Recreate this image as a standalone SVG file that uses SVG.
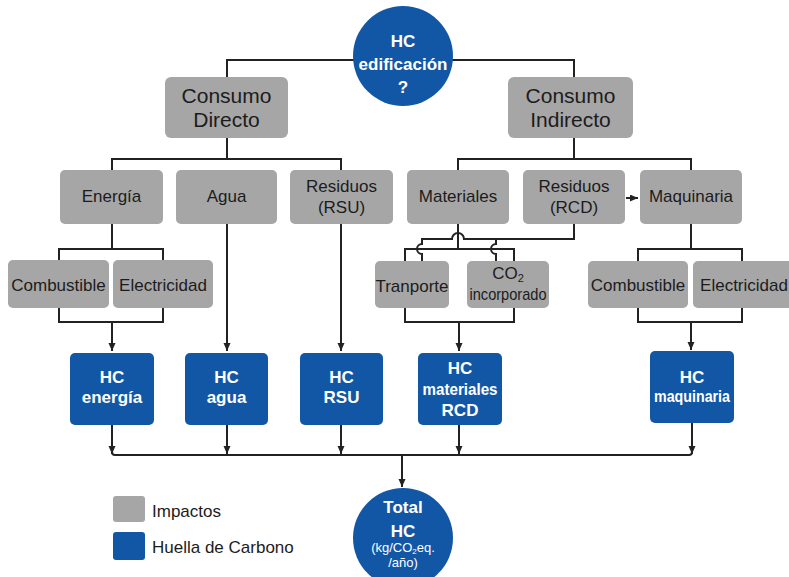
<svg xmlns="http://www.w3.org/2000/svg" width="789" height="577" viewBox="0 0 789 577">
  <style>
    .imp { fill: #a6a6a6; }
    .hc { fill: #1257a6; }
    .t { font-family: "Liberation Sans", Arial, sans-serif; font-size: 17px; fill: #1c1c1c; text-anchor: middle; }
    .big { font-size: 21px; }
    .w { font-family: "Liberation Sans", Arial, sans-serif; font-size: 17px; font-weight: bold; fill: #ffffff; text-anchor: middle; }
    .sm { font-size: 13px; font-weight: normal; }
    .lg { text-anchor: start; }
    .ln { fill: none; stroke: #222222; stroke-width: 2; }
  </style>
  <defs>
    <marker id="arr" markerUnits="userSpaceOnUse" markerWidth="9" markerHeight="8" refX="8" refY="3.5" orient="auto">
      <path d="M0,0 L8,3.5 L0,7 z" fill="#222222"/>
    </marker>
  </defs>
  <rect width="789" height="577" fill="#ffffff"/>

  <!-- connectors -->
  <g id="connectors" class="ln">
    <path d="M402,60 H227 V77"/>
    <path d="M402,60 H574 V77"/>
    <path d="M227,138 V159"/>
    <path d="M112,170 V159 H341 V170"/>
    <path d="M574,138 V159"/>
    <path d="M458,170 V159 H691 V170"/>
    <!-- Energía -->
    <path d="M112,224 V249"/>
    <path d="M59,260 V249 H163 V260"/>
    <path d="M59,308 V322 H163 V308"/>
    <path d="M112,322 V351" marker-end="url(#arr)"/>
    <path d="M227,224 V351" marker-end="url(#arr)"/>
    <path d="M341,224 V351" marker-end="url(#arr)"/>
    <!-- Residuos (RCD) to Maquinaria -->
    <path d="M626,198 H638" marker-end="url(#arr)"/>
    <!-- Residuos (RCD) to Tranporte / CO2, hopping over the Materiales lines -->
    <path d="M574,224 V239 H464 A6,6 0 0 0 452,239 H422 V244 A5,5 0 0 0 422,254 V261"/>
    <path d="M496,239 V244 A5,5 0 0 0 496,254 V261"/>
    <!-- Materiales to Tranporte / CO2 -->
    <path d="M458,224 V249"/>
    <path d="M405,261 V249 H514 V261"/>
    <path d="M405,308 V322 H514 V308"/>
    <path d="M459,322 V351" marker-end="url(#arr)"/>
    <!-- Maquinaria -->
    <path d="M691,224 V249"/>
    <path d="M638,261 V249 H742 V261"/>
    <path d="M638,308 V322 H742 V308"/>
    <path d="M691,322 V350" marker-end="url(#arr)"/>
    <!-- to total -->
    <path d="M112,425 V454" marker-end="url(#arr)"/>
    <path d="M227,425 V454" marker-end="url(#arr)"/>
    <path d="M341,425 V454" marker-end="url(#arr)"/>
    <path d="M459,425 V454" marker-end="url(#arr)"/>
    <path d="M692,423 V454" marker-end="url(#arr)"/>
    <path d="M112,450 V452 Q112,455 115,455 H689 Q692,455 692,452 V450"/>
    <path d="M402,455 V487" marker-end="url(#arr)"/>
  </g>

  <g id="hc-edificacion">
    <circle class="hc" cx="403" cy="56" r="50"/>
    <text class="w" x="403" y="47">HC</text>
    <text class="w" x="403" y="70" font-size="18">edificación</text>
    <text class="w" x="403" y="93">?</text>
  </g>

  <g id="consumo-directo">
    <rect class="imp" x="165" y="77" width="123" height="61" rx="6"/>
    <text class="t big" x="226.5" y="103">Consumo</text>
    <text class="t big" x="226.5" y="127">Directo</text>
  </g>
  <g id="consumo-indirecto">
    <rect class="imp" x="508" y="77" width="125" height="61" rx="6"/>
    <text class="t big" x="570.5" y="103">Consumo</text>
    <text class="t big" x="570.5" y="127">Indirecto</text>
  </g>

  <g id="energia">
    <rect class="imp" x="60" y="170" width="103" height="54" rx="5"/>
    <text class="t" x="111.5" y="202">Energía</text>
  </g>
  <g id="agua">
    <rect class="imp" x="176" y="170" width="101" height="54" rx="5"/>
    <text class="t" x="226.5" y="202">Agua</text>
  </g>
  <g id="residuos-rsu">
    <rect class="imp" x="290" y="170" width="103" height="54" rx="5"/>
    <text class="t" x="341.5" y="192">Residuos</text>
    <text class="t" x="341.5" y="213">(RSU)</text>
  </g>
  <g id="materiales">
    <rect class="imp" x="407" y="170" width="102" height="54" rx="5"/>
    <text class="t" x="458" y="202">Materiales</text>
  </g>
  <g id="residuos-rcd">
    <rect class="imp" x="523" y="170" width="102" height="54" rx="5"/>
    <text class="t" x="574" y="192">Residuos</text>
    <text class="t" x="574" y="213">(RCD)</text>
  </g>
  <g id="maquinaria">
    <rect class="imp" x="640" y="170" width="102" height="54" rx="5"/>
    <text class="t" x="691" y="202">Maquinaria</text>
  </g>

  <g id="combustible-1">
    <rect class="imp" x="8" y="260" width="101" height="48" rx="5"/>
    <text class="t" x="58.5" y="291">Combustible</text>
  </g>
  <g id="electricidad-1">
    <rect class="imp" x="113" y="260" width="100" height="48" rx="5"/>
    <text class="t" x="163" y="291">Electricidad</text>
  </g>
  <g id="tranporte">
    <rect class="imp" x="375" y="261" width="74" height="47" rx="5"/>
    <text class="t" x="412" y="292" font-size="16">Tranporte</text>
  </g>
  <g id="co2-incorporado">
    <rect class="imp" x="467" y="261" width="82" height="47" rx="5"/>
    <text class="t" x="508" y="279" font-size="17">CO<tspan font-size="11" dy="3">2</tspan></text>
    <text class="t" x="508" y="300" font-size="15" textLength="77" lengthAdjust="spacingAndGlyphs">incorporado</text>
  </g>
  <g id="combustible-2">
    <rect class="imp" x="588" y="261" width="100" height="47" rx="5"/>
    <text class="t" x="638" y="291">Combustible</text>
  </g>
  <g id="electricidad-2">
    <rect class="imp" x="693" y="261" width="100" height="47" rx="5"/>
    <text class="t" x="744" y="291">Electricidad</text>
  </g>

  <g id="hc-energia">
    <rect class="hc" x="70" y="353" width="84" height="72" rx="5"/>
    <text class="w" x="112" y="383">HC</text>
    <text class="w" x="112" y="403">energía</text>
  </g>
  <g id="hc-agua">
    <rect class="hc" x="185" y="353" width="83" height="72" rx="5"/>
    <text class="w" x="226.5" y="383">HC</text>
    <text class="w" x="226.5" y="403">agua</text>
  </g>
  <g id="hc-rsu">
    <rect class="hc" x="300" y="353" width="83" height="72" rx="5"/>
    <text class="w" x="341.5" y="383">HC</text>
    <text class="w" x="341.5" y="403">RSU</text>
  </g>
  <g id="hc-materiales-rcd">
    <rect class="hc" x="418" y="353" width="84" height="72" rx="5"/>
    <text class="w" x="460" y="374">HC</text>
    <text class="w" x="460" y="395" textLength="75" lengthAdjust="spacingAndGlyphs">materiales</text>
    <text class="w" x="460" y="416">RCD</text>
  </g>
  <g id="hc-maquinaria">
    <rect class="hc" x="650" y="351" width="84" height="72" rx="5"/>
    <text class="w" x="692" y="383">HC</text>
    <text class="w" x="692" y="402" textLength="76" lengthAdjust="spacingAndGlyphs">maquinaria</text>
  </g>

  <g id="total-hc">
    <circle class="hc" cx="403" cy="538" r="50"/>
    <text class="w" x="403" y="513">Total</text>
    <text class="w" x="403" y="537">HC</text>
    <text class="w sm" x="403" y="552">(kg/CO<tspan font-size="8" dy="2">2</tspan><tspan dy="-2">eq.</tspan></text>
    <text class="w sm" x="403" y="567">/año)</text>
  </g>

  <g id="legend">
    <rect class="imp" x="113" y="496" width="32" height="26" rx="3"/>
    <text class="t lg" x="152" y="517">Impactos</text>
    <rect class="hc" x="113" y="532" width="32" height="28" rx="3"/>
    <text class="t lg" x="152" y="553">Huella de Carbono</text>
  </g>
</svg>
